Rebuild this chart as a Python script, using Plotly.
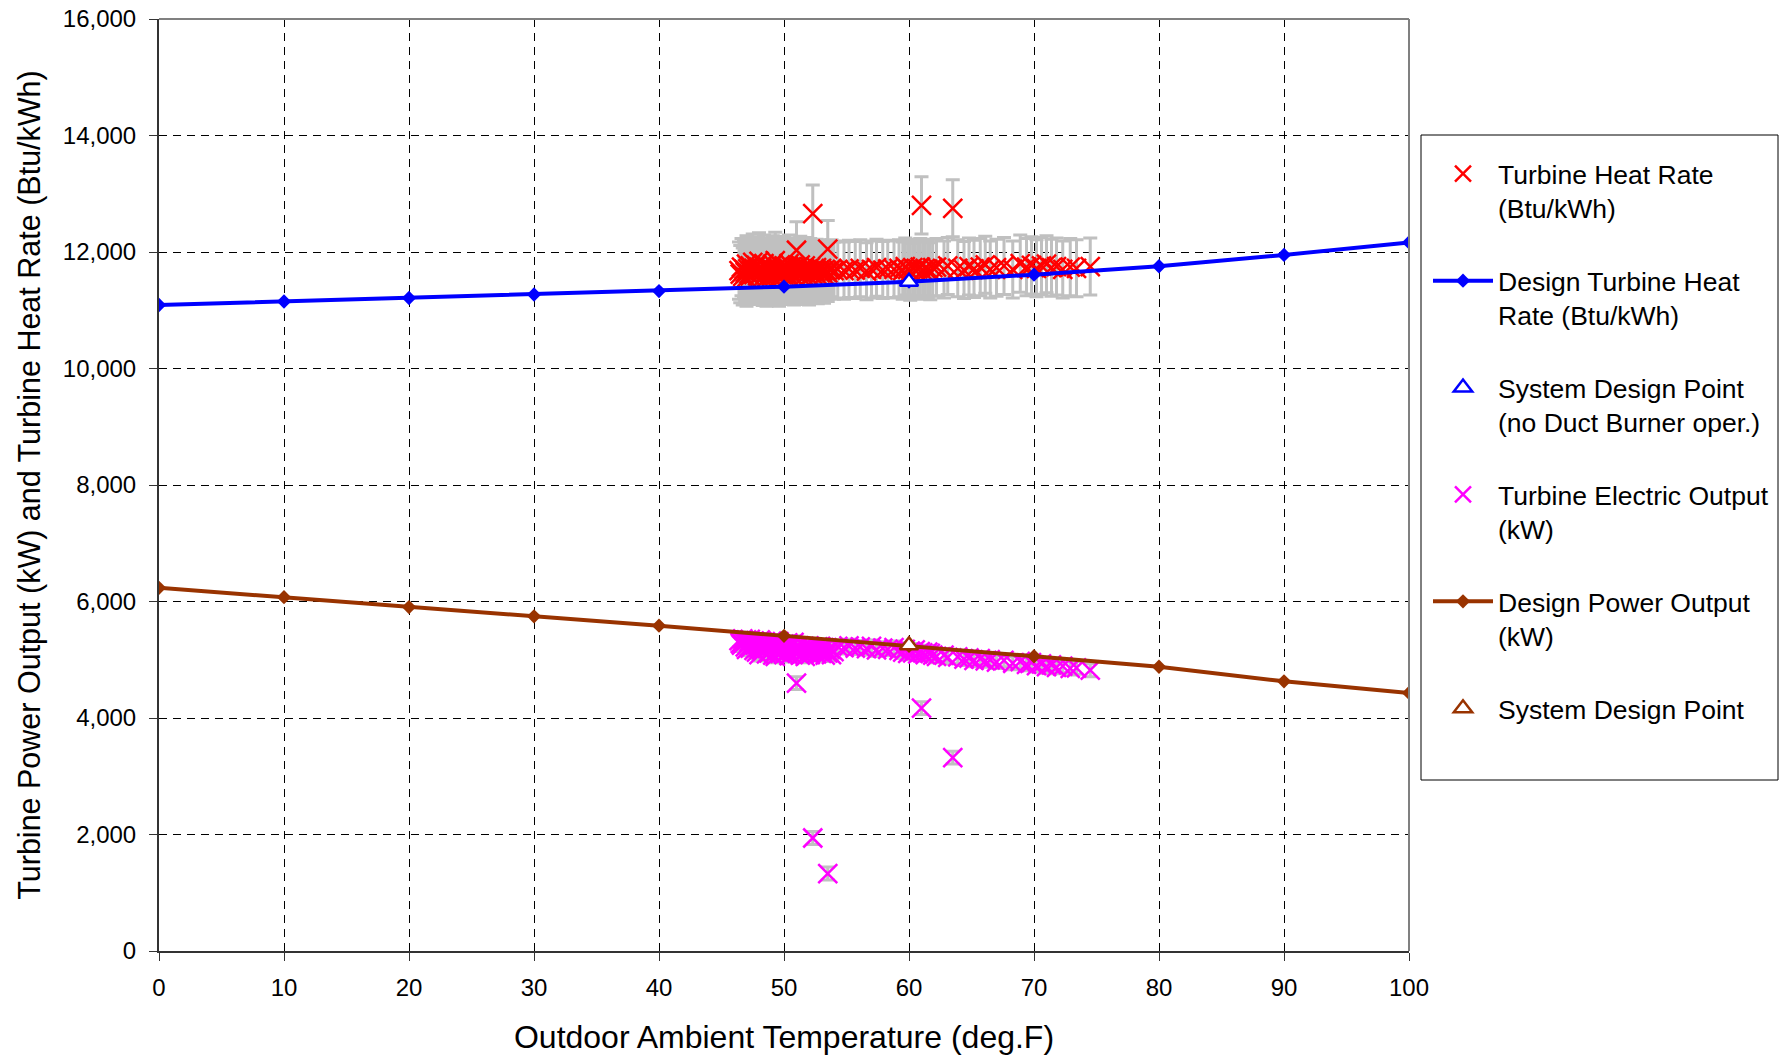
import plotly.graph_objects as go

# ---------------- data ----------------
design_temp = [0, 10, 20, 30, 40, 50, 60, 70, 80, 90, 100]
design_heat_rate = [11090, 11150, 11210, 11270, 11330, 11405, 11490, 11610, 11755, 11950, 12165]
design_power = [6235, 6075, 5905, 5745, 5585, 5410, 5240, 5060, 4880, 4630, 4430]

design_point_temp = [60]
design_point_hr = [11490]
design_point_kw = [5250]

temps = [
    46.4, 46.5, 46.6, 46.7, 46.8, 46.9, 47.0, 47.0, 47.1, 47.2, 47.3, 47.3, 47.4, 47.5, 47.6, 47.6,
    47.7, 47.8, 47.9, 48.0, 48.0, 48.1, 48.2, 48.3, 48.3, 48.4, 48.5, 48.6, 48.6, 48.7, 48.8, 48.9,
    49.0, 49.0, 49.1, 49.2, 49.3, 49.3, 49.4, 49.5, 49.6, 49.6, 49.7, 49.8, 49.9, 50.0, 50.0, 50.1,
    50.2, 50.3, 50.3, 50.4, 50.5, 50.6, 50.6, 50.7, 50.8, 50.9, 51.0, 51.0, 51.1, 51.2, 51.3, 51.4,
    51.5, 51.6, 51.6, 51.7, 51.8, 51.9, 52.0, 52.0, 52.1, 52.2, 52.3, 52.3, 52.4, 52.5, 52.6, 52.7,
    52.8, 52.9, 53.0, 53.1, 53.2, 53.3, 53.4, 53.5, 53.5, 53.7, 53.8, 54.0,
    54.3, 54.8, 55.2, 55.7, 56.1, 56.6, 57.0, 57.4, 57.9, 58.3, 58.8,
    59.2, 59.5, 59.7, 59.9, 60.1, 60.3, 60.5, 60.7, 60.9, 61.0, 61.1, 61.3, 61.5, 61.7, 61.9,
    62.2, 62.8, 63.1, 63.5, 63.9, 64.4, 64.8, 65.2, 65.7, 66.1, 66.5, 67.0, 67.6, 68.3, 68.9, 69.4,
    69.8, 70.2, 70.6, 71.0, 71.4, 71.8, 72.3, 72.9, 73.4, 74.5,
]

heat_rate = [
    11680, 11620, 11740, 11580, 11700, 11650, 11790, 11560, 11710, 11630, 11760, 11590, 11680, 11820, 11610, 11720,
    11660, 11770, 11590, 11700, 11840, 11620, 11730, 11570, 11680, 11800, 11640, 11710, 11560, 11750, 11690, 11610,
    11720, 11580, 11790, 11650, 11700, 11850, 11610, 11740, 11670, 11560, 11780, 11630, 11710, 11600, 11760, 11690,
    11640, 11730, 11590, 11800, 11670, 11620, 11750, 11700, 11580, 11660, 11690, 12030, 11740, 11610, 11780, 11650,
    11720, 11590, 11690, 11760, 11630, 11710, 11660, 11580, 11740, 11680, 12660, 11620, 11700, 11650, 11730, 11600,
    11690, 11640, 11720, 11670, 11610, 11700, 11660, 12050, 11640, 11690, 11720, 11680,
    11700, 11680, 11710, 11690, 11720, 11670, 11700, 11730, 11690, 11710, 11700,
    11720, 11680, 11750, 11700, 11660, 11730, 11690, 11710, 11740, 12800, 11680, 11720, 11700, 11670, 11730,
    11740, 11700, 11760, 12750, 11720, 11690, 11750, 11710, 11740, 11780, 11700, 11730, 11760, 11700, 11800, 11740,
    11770, 11720, 11760, 11790, 11730, 11750, 11700, 11740, 11720, 11750,
]

power_kw = [
    5330, 5280, 5250, 5360, 5300, 5220, 5340, 5180, 5270, 5310, 5200, 5350, 5240, 5290, 5160, 5320,
    5250, 5130, 5300, 5210, 5090, 5340, 5180, 5270, 5150, 5230, 5310, 5100, 5260, 5190, 5120, 5280,
    5200, 5320, 5080, 5250, 5140, 5060, 5290, 5170, 5220, 5310, 5110, 5240, 5160, 5270, 5090, 5190,
    5260, 5130, 5290, 5070, 5210, 5250, 5100, 5170, 5300, 5140, 5200, 4600, 5120, 5240, 5080, 5190,
    5110, 5230, 5150, 5060, 5200, 5120, 5180, 5240, 5090, 5160, 1940, 5210, 5130, 5170, 5100, 5220,
    5140, 5190, 5110, 5170, 5210, 5080, 5150, 1330, 5120, 5180, 5090, 5140,
    5230, 5210, 5240, 5200, 5220, 5190, 5230, 5170, 5200, 5180, 5210,
    5160, 5130, 5180, 5110, 5150, 5120, 5170, 5100, 5140, 4170, 5120, 5090, 5130, 5110, 5080,
    5060, 5080, 5040, 3320, 5050, 5010, 5030, 4990, 5020, 4980, 5000, 4960, 4990, 4940, 4970, 4920,
    4950, 4900, 4930, 4880, 4910, 4870, 4890, 4850, 4860, 4820,
]

heat_rate_error = 490   # Btu/kWh, +/-
power_error = 110       # kW, +/-

x_ticks = [0, 10, 20, 30, 40, 50, 60, 70, 80, 90, 100]
y_ticks = [0, 2000, 4000, 6000, 8000, 10000, 12000, 14000, 16000]

# ---------------- style ----------------
FONT = "Liberation Sans, Arial, sans-serif"
RED = "#FF0000"
BLUE = "#0000FF"
MAGENTA = "#FF00FF"
BROWN = "#993300"
GRAY_ERR = "#C0C0C0"

W, H = 1788, 1058
L, R, T, B = 159, 1409, 19, 951

fig = go.Figure()

fig.add_trace(go.Scatter(
    x=temps, y=heat_rate, mode="markers",
    name="Turbine Heat Rate<br>(Btu/kWh)",
    marker=dict(symbol="x-thin", size=19, color=RED, line=dict(width=2.5, color=RED)),
    error_y=dict(type="constant", value=heat_rate_error, color=GRAY_ERR, thickness=3, width=7),
    legendgroup="g1",
))
fig.add_trace(go.Scatter(
    x=design_temp, y=design_heat_rate, mode="lines+markers",
    name="Design Turbine Heat<br>Rate (Btu/kWh)",
    line=dict(color=BLUE, width=4),
    marker=dict(symbol="diamond", size=11, color=BLUE),
    legendgroup="g2",
))
fig.add_trace(go.Scatter(
    x=design_point_temp, y=design_point_hr, mode="markers",
    name="System Design Point<br>(no Duct Burner oper.)",
    marker=dict(symbol="triangle-up", size=16, color="white", line=dict(width=2.5, color=BLUE)),
    legendgroup="g3",
))
fig.add_trace(go.Scatter(
    x=temps, y=power_kw, mode="markers",
    name="Turbine Electric Output<br>(kW)",
    marker=dict(symbol="x-thin", size=19, color=MAGENTA, line=dict(width=2.5, color=MAGENTA)),
    error_y=dict(type="constant", value=power_error, color=GRAY_ERR, thickness=3, width=7),
    legendgroup="g4",
))
fig.add_trace(go.Scatter(
    x=design_temp, y=design_power, mode="lines+markers",
    name="Design Power Output<br>(kW)",
    line=dict(color=BROWN, width=4),
    marker=dict(symbol="diamond", size=11, color=BROWN),
    legendgroup="g5",
))
fig.add_trace(go.Scatter(
    x=design_point_temp, y=design_point_kw, mode="markers",
    name="System Design Point",
    marker=dict(symbol="triangle-up", size=16, color="white", line=dict(width=2.5, color=BROWN)),
    legendgroup="g6",
))

pw, ph = R - L, B - T

def px_x(p):
    return (p - L) / pw

def px_y(p):
    return (B - p) / ph

shapes = [
    dict(type="line", xref="paper", yref="paper", x0=0, x1=1, y0=1, y1=1,
         line=dict(color="#808080", width=2), layer="above"),
    dict(type="line", xref="paper", yref="paper", x0=1, x1=1, y0=0, y1=1,
         line=dict(color="#808080", width=2), layer="above"),
    dict(type="rect", xref="paper", yref="paper",
         x0=px_x(1421), x1=px_x(1778), y0=px_y(780), y1=px_y(135),
         line=dict(color="black", width=1), fillcolor="white", layer="above"),
]

fig.update_layout(
    width=W, height=H,
    margin=dict(l=L, r=W - R, t=T, b=H - B, pad=0),
    paper_bgcolor="white", plot_bgcolor="white",
    font=dict(family=FONT, color="black", size=24),
    showlegend=True,
    legend=dict(
        x=px_x(1428), y=px_y(150), xanchor="left", yanchor="top",
        bgcolor="rgba(0,0,0,0)", borderwidth=0,
        font=dict(family=FONT, size=26.5, color="black"),
        itemwidth=60, valign="top", tracegroupgap=35,
        traceorder="grouped",
    ),
    shapes=shapes,
)

fig.update_xaxes(
    range=[0, 100], tickvals=x_ticks, ticktext=[str(v) for v in x_ticks],
    showgrid=True, gridcolor="black", gridwidth=1, griddash="8px,6px",
    zeroline=False, showline=True, linecolor="#333333", linewidth=2,
    ticks="outside", ticklen=8, tickcolor="#333333", tickwidth=1,
    tickfont=dict(family=FONT, size=24),
    ticklabelstandoff=6,
    title=dict(text="Outdoor Ambient Temperature (deg.F)", font=dict(family=FONT, size=32), standoff=26),
    automargin=False,
)
fig.update_yaxes(
    range=[0, 16000], tickvals=y_ticks, tickformat=",d",
    showgrid=True, gridcolor="black", gridwidth=1, griddash="8px,6px",
    zeroline=False, showline=True, linecolor="#333333", linewidth=2,
    ticks="outside", ticklen=8, tickcolor="#333333", tickwidth=1,
    tickfont=dict(family=FONT, size=24),
    ticklabelstandoff=8,
    title=dict(text="Turbine Power Output (kW) and Turbine Heat Rate (Btu/kWh)",
               font=dict(family=FONT, size=30.5), standoff=13),
    automargin=False,
)

fig.write_html("out.html")
